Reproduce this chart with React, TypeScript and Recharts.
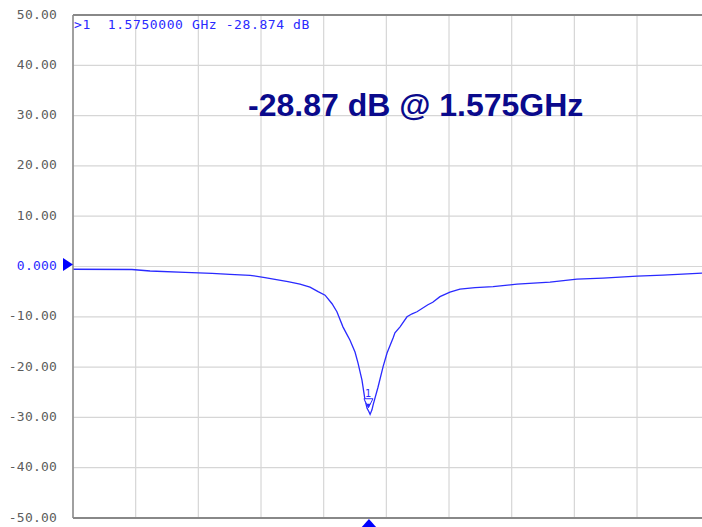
import React from 'react';
import {
  LineChart, Line, XAxis, YAxis, CartesianGrid, ReferenceLine, ReferenceDot
} from 'recharts';

// sweep (GHz) and S11 magnitude (dB)
const freqs = [
  0.3, 0.554, 0.632, 0.783, 0.899, 0.976, 1.063, 1.127, 1.17, 1.226, 1.278, 1.321,
  1.356, 1.386, 1.416, 1.437, 1.463, 1.48, 1.493, 1.515, 1.528, 1.545, 1.558, 1.567,
  1.575, 1.58, 1.588, 1.593, 1.614, 1.636, 1.653, 1.679, 1.687, 1.709, 1.739, 1.761,
  1.782, 1.829, 1.85, 1.881, 1.924, 1.967, 2.032, 2.11, 2.213, 2.355, 2.471, 2.583,
  2.73, 2.842, 3.01, 3.05,
];
const s11 = [
  -0.55, -0.6, -0.89, -1.15, -1.35, -1.55, -1.75, -2.2, -2.55, -3.0, -3.5, -4.1,
  -5.0, -5.7, -7.4, -9.0, -12.0, -13.5, -14.6, -17.0, -19.2, -22.6, -26.5, -28.2,
  -28.87, -29.4, -28.5, -27.5, -24.0, -19.9, -17.2, -14.2, -13.2, -12.0, -10.0, -9.4,
  -9.0, -7.6, -7.1, -6.0, -5.1, -4.5, -4.2, -4.0, -3.5, -3.1, -2.5, -2.3,
  -1.9, -1.7, -1.3, -1.25,
];

const yTicks = [50, 40, 30, 20, 10, 0, -10, -20, -30, -40, -50];
const xGrid = [0.57, 0.84, 1.11, 1.38, 1.65, 1.92, 2.19, 2.46, 2.73];

const markerFreq = 1.575;
const markerDb = -28.874;
const readout = '>1  1.5750000 GHz -28.874 dB';
const annotation = '-28.87 dB @ 1.575GHz';

const data = freqs.map((f, i) => ({ f, db: s11[i] }));

const BLUE = '#2a2aff';
const MONO = '"DejaVu Sans Mono", monospace';

const YTick = (props: any) => {
  const v = props.payload.value;
  const isZero = v === 0;
  return (
    <text
      x={57}
      y={props.y - 1}
      textAnchor="end"
      dominantBaseline="central"
      fontFamily={MONO}
      fontSize={13}
      letterSpacing={0.2}
      fill={isZero ? BLUE : '#5c5c5c'}
    >
      {isZero ? '0.000' : v.toFixed(2)}
    </text>
  );
};

const ZeroArrow = (props: any) => {
  const { cx, cy } = props;
  const y = cy - 2;
  return <polygon points={`${cx - 10},${y - 6.5} ${cx},${y} ${cx - 10},${y + 6.5}`} fill="#0000ff" />;
};

const BottomArrow = (props: any) => {
  const { cx, cy } = props;
  return <polygon points={`${cx - 8},${cy + 10} ${cx},${cy + 1} ${cx + 8},${cy + 10}`} fill="#0000ff" />;
};

const MarkerShape = (props: any) => {
  const { cx, cy } = props;
  const tip = cy - 4;
  return (
    <g>
      <text x={cx - 1} y={tip - 11} textAnchor="middle" fontFamily={MONO} fontSize={10} fill={BLUE}>1</text>
      <polygon points={`${cx - 5},${tip - 9} ${cx + 4},${tip - 9} ${cx - 0.5},${tip}`} fill="#fff" stroke={BLUE} strokeWidth={1} />
      <polygon points={`${cx - 2.5},${tip - 4} ${cx + 1.5},${tip - 4} ${cx - 0.5},${tip}`} fill={BLUE} />
    </g>
  );
};

export default function App() {
  return (
    <div style={{ position: 'fixed', left: 0, top: 0, width: 702, height: 527, overflow: 'hidden', background: '#fff' }}>
      <LineChart width={712} height={527} data={data} margin={{ top: 15, right: 0, left: 0, bottom: 0 }}>
        <CartesianGrid stroke="#d6d6d6" strokeWidth={1.2} />
        <XAxis
          type="number"
          dataKey="f"
          domain={[0.3, 3.053]}
          ticks={xGrid}
          interval={0}
          allowDataOverflow
          tick={() => <g />}
          tickLine={false}
          height={9}
          axisLine={{ stroke: '#888', strokeWidth: 2 }}
        />
        <YAxis
          type="number"
          domain={[-50, 50]}
          ticks={yTicks}
          width={73}
          tickLine={false}
          axisLine={{ stroke: '#888', strokeWidth: 1.5 }}
          tick={<YTick />}
          interval={0}
        />
        <ReferenceLine y={50} stroke="#888" strokeWidth={2} />
        <Line
          type="linear"
          dataKey="db"
          stroke={BLUE}
          strokeWidth={1.3}
          dot={false}
          isAnimationActive={false}
        />
        <ReferenceDot x={0.3} y={0} r={0} ifOverflow="visible" shape={<ZeroArrow />} />
        <ReferenceDot x={markerFreq} y={-50} r={0} ifOverflow="visible" shape={<BottomArrow />} />
        <ReferenceDot x={markerFreq} y={markerDb} r={0} ifOverflow="visible" shape={<MarkerShape />} />
      </LineChart>
      <svg width={702} height={527} style={{ position: 'absolute', left: 0, top: 0, pointerEvents: 'none' }}>
        <text x={74} y={29} fontFamily={MONO} fontSize={13} letterSpacing={0.6} fill={BLUE} style={{ whiteSpace: 'pre' }}>
          {readout}
        </text>
        <text x={248} y={116} fontFamily='"Liberation Sans", Arial, sans-serif' fontWeight="bold" fontSize={32} fill="#0a0a8c">
          {annotation}
        </text>
      </svg>
    </div>
  );
}
